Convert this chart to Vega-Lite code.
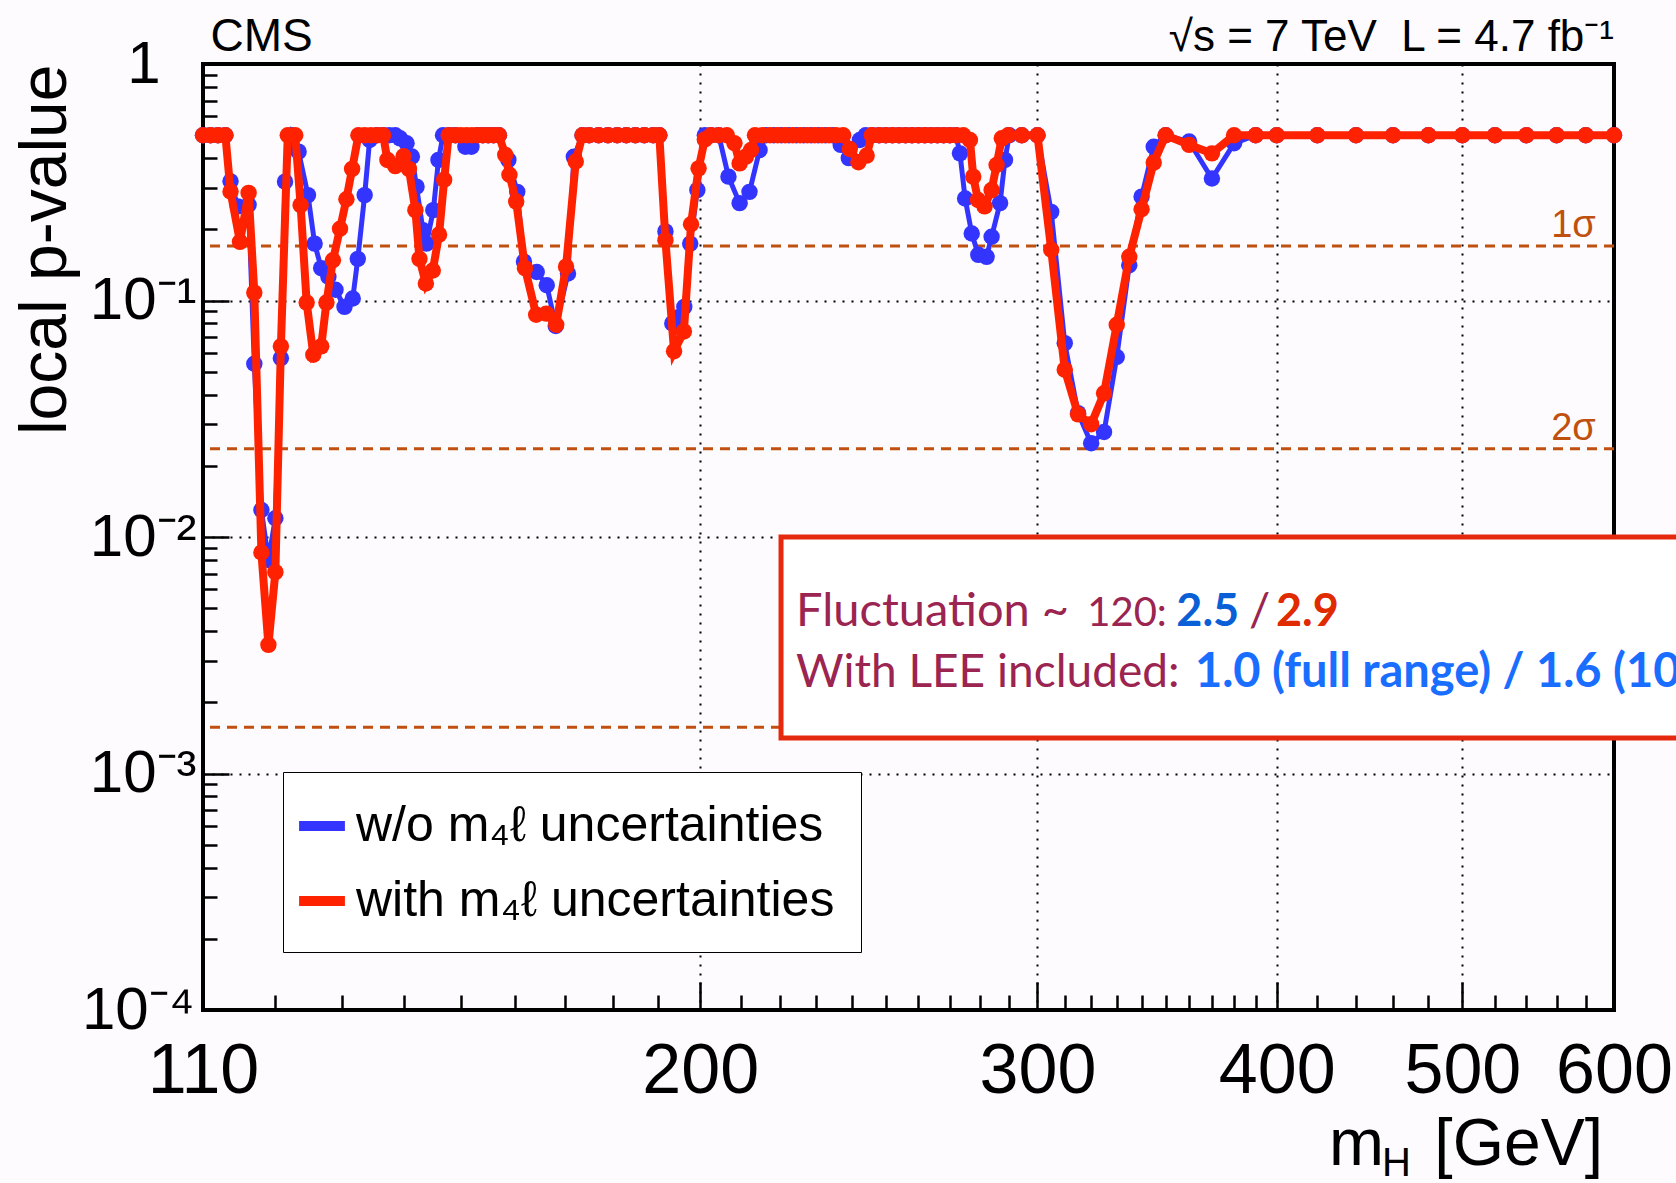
{
  "$schema": "https://vega.github.io/schema/vega-lite/v6.json",
  "width": 1411,
  "height": 946,
  "autosize": {"type": "none"},
  "padding": {"left": 203, "top": 64, "right": 62, "bottom": 173},
  "background": "#fdfbfd",
  "config": {
    "view": {"stroke": "black", "strokeWidth": 4, "fill": "#fdfbfd"},
    "font": "Liberation Sans"
  },
  "resolve": {"axis": {"x": "independent", "y": "independent"}},
  "datasets": {
    "sigma": [
      {"label": "1σ", "p": 0.17},
      {"label": "2σ", "p": 0.0236},
      {"label": "3σ", "p": 0.00157}
    ],
    "scan": [
      {"s":"w/o","m":110,"p":0.5},{"s":"w/o","m":111,"p":0.5},{"s":"w/o","m":112,"p":0.5},{"s":"w/o","m":113,"p":0.5},
      {"s":"w/o","m":113.7,"p":0.319},{"s":"w/o","m":114.7,"p":0.25},{"s":"w/o","m":116.2,"p":0.254},{"s":"w/o","m":117,"p":0.054},
      {"s":"w/o","m":118,"p":0.013},{"s":"w/o","m":119,"p":0.008},{"s":"w/o","m":120,"p":0.012},{"s":"w/o","m":120.8,"p":0.057},
      {"s":"w/o","m":121.4,"p":0.318},{"s":"w/o","m":122.4,"p":0.5},{"s":"w/o","m":123.4,"p":0.426},{"s":"w/o","m":124.8,"p":0.279},
      {"s":"w/o","m":125.8,"p":0.174},{"s":"w/o","m":126.8,"p":0.137},{"s":"w/o","m":127.9,"p":0.126},{"s":"w/o","m":129,"p":0.111},
      {"s":"w/o","m":130.4,"p":0.094},{"s":"w/o","m":131.7,"p":0.102},{"s":"w/o","m":132.5,"p":0.15},{"s":"w/o","m":133.6,"p":0.279},
      {"s":"w/o","m":134.4,"p":0.477},{"s":"w/o","m":135.6,"p":0.5},{"s":"w/o","m":136.6,"p":0.5},{"s":"w/o","m":137.6,"p":0.5},
      {"s":"w/o","m":138.6,"p":0.5},{"s":"w/o","m":139.4,"p":0.485},{"s":"w/o","m":140.5,"p":0.462},{"s":"w/o","m":141.4,"p":0.406},
      {"s":"w/o","m":142.2,"p":0.303},{"s":"w/o","m":143.3,"p":0.198},{"s":"w/o","m":143.9,"p":0.174},{"s":"w/o","m":145.1,"p":0.241},
      {"s":"w/o","m":146,"p":0.393},{"s":"w/o","m":146.8,"p":0.5},{"s":"w/o","m":148,"p":0.5},{"s":"w/o","m":149,"p":0.5},
      {"s":"w/o","m":150.8,"p":0.447},{"s":"w/o","m":151.9,"p":0.447},{"s":"w/o","m":153,"p":0.5},{"s":"w/o","m":154,"p":0.5},
      {"s":"w/o","m":155,"p":0.5},{"s":"w/o","m":156,"p":0.5},{"s":"w/o","m":157,"p":0.5},{"s":"w/o","m":158.8,"p":0.393},
      {"s":"w/o","m":160.5,"p":0.288},{"s":"w/o","m":161.8,"p":0.146},{"s":"w/o","m":164.3,"p":0.132},{"s":"w/o","m":166.3,"p":0.116},
      {"s":"w/o","m":168.1,"p":0.078},{"s":"w/o","m":170.6,"p":0.13},{"s":"w/o","m":171.8,"p":0.405},{"s":"w/o","m":173.6,"p":0.5},
      {"s":"w/o","m":175,"p":0.5},{"s":"w/o","m":177,"p":0.5},{"s":"w/o","m":179,"p":0.5},{"s":"w/o","m":181,"p":0.5},
      {"s":"w/o","m":183,"p":0.5},{"s":"w/o","m":185,"p":0.5},{"s":"w/o","m":187,"p":0.5},{"s":"w/o","m":189,"p":0.5},
      {"s":"w/o","m":190.4,"p":0.5},{"s":"w/o","m":191.8,"p":0.196},{"s":"w/o","m":193.4,"p":0.08},{"s":"w/o","m":194.9,"p":0.085},
      {"s":"w/o","m":196.2,"p":0.094},{"s":"w/o","m":197.6,"p":0.174},{"s":"w/o","m":199.3,"p":0.293},{"s":"w/o","m":201.1,"p":0.5},
      {"s":"w/o","m":202.6,"p":0.5},{"s":"w/o","m":204.5,"p":0.5},{"s":"w/o","m":206.9,"p":0.334},{"s":"w/o","m":209.7,"p":0.258},
      {"s":"w/o","m":212.2,"p":0.288},{"s":"w/o","m":214.8,"p":0.433},{"s":"w/o","m":216.5,"p":0.5},{"s":"w/o","m":218.5,"p":0.5},
      {"s":"w/o","m":220.5,"p":0.5},{"s":"w/o","m":222.5,"p":0.5},{"s":"w/o","m":224.5,"p":0.5},{"s":"w/o","m":226.5,"p":0.5},
      {"s":"w/o","m":228.5,"p":0.5},{"s":"w/o","m":230.5,"p":0.5},{"s":"w/o","m":232.5,"p":0.5},{"s":"w/o","m":234.5,"p":0.5},
      {"s":"w/o","m":236.8,"p":0.455},{"s":"w/o","m":239.1,"p":0.4},{"s":"w/o","m":242.3,"p":0.477},{"s":"w/o","m":244,"p":0.5},
      {"s":"w/o","m":246,"p":0.5},{"s":"w/o","m":248,"p":0.5},{"s":"w/o","m":250,"p":0.5},{"s":"w/o","m":252,"p":0.5},
      {"s":"w/o","m":254,"p":0.5},{"s":"w/o","m":256,"p":0.5},{"s":"w/o","m":258,"p":0.5},{"s":"w/o","m":260,"p":0.5},
      {"s":"w/o","m":262,"p":0.5},{"s":"w/o","m":264,"p":0.5},{"s":"w/o","m":266,"p":0.5},{"s":"w/o","m":268,"p":0.5},
      {"s":"w/o","m":270,"p":0.5},{"s":"w/o","m":272,"p":0.5},{"s":"w/o","m":273.3,"p":0.419},{"s":"w/o","m":275,"p":0.27},
      {"s":"w/o","m":277.2,"p":0.192},{"s":"w/o","m":279.4,"p":0.156},{"s":"w/o","m":282.2,"p":0.153},{"s":"w/o","m":283.9,"p":0.186},
      {"s":"w/o","m":286.8,"p":0.258},{"s":"w/o","m":288.5,"p":0.393},{"s":"w/o","m":290,"p":0.5},{"s":"w/o","m":294.4,"p":0.5},
      {"s":"w/o","m":300,"p":0.5},{"s":"w/o","m":305,"p":0.237},{"s":"w/o","m":310,"p":0.066},{"s":"w/o","m":315,"p":0.0334},
      {"s":"w/o","m":320,"p":0.0249},{"s":"w/o","m":325,"p":0.0278},{"s":"w/o","m":330,"p":0.0577},{"s":"w/o","m":335,"p":0.141},
      {"s":"w/o","m":340,"p":0.275},{"s":"w/o","m":345,"p":0.447},{"s":"w/o","m":350,"p":0.5},{"s":"w/o","m":360,"p":0.47},
      {"s":"w/o","m":370,"p":0.328},{"s":"w/o","m":380,"p":0.462},{"s":"w/o","m":390,"p":0.5},{"s":"w/o","m":400,"p":0.5},
      {"s":"w/o","m":420,"p":0.5},{"s":"w/o","m":440,"p":0.5},{"s":"w/o","m":460,"p":0.5},{"s":"w/o","m":480,"p":0.5},
      {"s":"w/o","m":500,"p":0.5},{"s":"w/o","m":520,"p":0.5},{"s":"w/o","m":540,"p":0.5},{"s":"w/o","m":560,"p":0.5},
      {"s":"w/o","m":580,"p":0.5},{"s":"w/o","m":600,"p":0.5},

      {"s":"with","m":110,"p":0.5},{"s":"with","m":111,"p":0.5},{"s":"with","m":112,"p":0.5},{"s":"with","m":113,"p":0.5},
      {"s":"with","m":113.7,"p":0.289},{"s":"with","m":115,"p":0.177},{"s":"with","m":116.2,"p":0.285},{"s":"with","m":117,"p":0.108},
      {"s":"with","m":118,"p":0.0086},{"s":"with","m":119,"p":0.0035},{"s":"with","m":120,"p":0.0071},{"s":"with","m":120.8,"p":0.064},
      {"s":"with","m":121.8,"p":0.5},{"s":"with","m":122.9,"p":0.5},{"s":"with","m":123.7,"p":0.253},{"s":"with","m":124.6,"p":0.098},
      {"s":"with","m":125.6,"p":0.059},{"s":"with","m":126.8,"p":0.064},{"s":"with","m":127.6,"p":0.098},{"s":"with","m":128.6,"p":0.148},
      {"s":"with","m":129.7,"p":0.201},{"s":"with","m":130.7,"p":0.268},{"s":"with","m":131.6,"p":0.36},{"s":"with","m":132.6,"p":0.5},
      {"s":"with","m":133.6,"p":0.5},{"s":"with","m":134.6,"p":0.5},{"s":"with","m":135.6,"p":0.5},{"s":"with","m":136.6,"p":0.5},
      {"s":"with","m":137.3,"p":0.393},{"s":"with","m":138.6,"p":0.37},{"s":"with","m":140,"p":0.407},{"s":"with","m":140.9,"p":0.36},
      {"s":"with","m":142,"p":0.241},{"s":"with","m":142.7,"p":0.15},{"s":"with","m":143.8,"p":0.118},{"s":"with","m":145,"p":0.134},
      {"s":"with","m":146.1,"p":0.19},{"s":"with","m":147,"p":0.324},{"s":"with","m":147.8,"p":0.5},{"s":"with","m":149,"p":0.5},
      {"s":"with","m":150,"p":0.5},{"s":"with","m":151,"p":0.5},{"s":"with","m":152,"p":0.5},{"s":"with","m":153,"p":0.5},
      {"s":"with","m":154,"p":0.5},{"s":"with","m":155,"p":0.5},{"s":"with","m":156,"p":0.5},{"s":"with","m":157,"p":0.5},
      {"s":"with","m":158.2,"p":0.413},{"s":"with","m":159,"p":0.34},{"s":"with","m":160.3,"p":0.262},{"s":"with","m":162,"p":0.137},
      {"s":"with","m":164.2,"p":0.087},{"s":"with","m":166.2,"p":0.088},{"s":"with","m":168.2,"p":0.079},{"s":"with","m":170.2,"p":0.139},
      {"s":"with","m":172.2,"p":0.387},{"s":"with","m":173.6,"p":0.5},{"s":"with","m":175,"p":0.5},{"s":"with","m":177,"p":0.5},
      {"s":"with","m":179,"p":0.5},{"s":"with","m":181,"p":0.5},{"s":"with","m":183,"p":0.5},{"s":"with","m":185,"p":0.5},
      {"s":"with","m":187,"p":0.5},{"s":"with","m":189,"p":0.5},{"s":"with","m":190.4,"p":0.5},{"s":"with","m":191.8,"p":0.18},
      {"s":"with","m":193.8,"p":0.061},{"s":"with","m":196.1,"p":0.074},{"s":"with","m":197.8,"p":0.21},{"s":"with","m":199.6,"p":0.362},
      {"s":"with","m":201.1,"p":0.48},{"s":"with","m":202.6,"p":0.5},{"s":"with","m":204.5,"p":0.5},{"s":"with","m":206.5,"p":0.5},
      {"s":"with","m":208.4,"p":0.462},{"s":"with","m":209.7,"p":0.38},{"s":"with","m":211.3,"p":0.406},{"s":"with","m":212.6,"p":0.433},
      {"s":"with","m":213.6,"p":0.5},{"s":"with","m":215.5,"p":0.5},{"s":"with","m":217.5,"p":0.5},{"s":"with","m":219.5,"p":0.5},
      {"s":"with","m":221.5,"p":0.5},{"s":"with","m":223.5,"p":0.5},{"s":"with","m":225.5,"p":0.5},{"s":"with","m":227.5,"p":0.5},
      {"s":"with","m":229.5,"p":0.5},{"s":"with","m":231.5,"p":0.5},{"s":"with","m":233.5,"p":0.5},{"s":"with","m":235.5,"p":0.5},
      {"s":"with","m":237.5,"p":0.5},{"s":"with","m":239.4,"p":0.437},{"s":"with","m":241.9,"p":0.384},{"s":"with","m":244.3,"p":0.41},
      {"s":"with","m":245.8,"p":0.5},{"s":"with","m":248,"p":0.5},{"s":"with","m":250,"p":0.5},{"s":"with","m":252,"p":0.5},
      {"s":"with","m":254,"p":0.5},{"s":"with","m":256,"p":0.5},{"s":"with","m":258,"p":0.5},{"s":"with","m":260,"p":0.5},
      {"s":"with","m":262,"p":0.5},{"s":"with","m":264,"p":0.5},{"s":"with","m":266,"p":0.5},{"s":"with","m":268,"p":0.5},
      {"s":"with","m":270,"p":0.5},{"s":"with","m":272,"p":0.5},{"s":"with","m":274.4,"p":0.5},{"s":"with","m":276.6,"p":0.477},
      {"s":"with","m":277.7,"p":0.334},{"s":"with","m":279.3,"p":0.266},{"s":"with","m":281.5,"p":0.25},{"s":"with","m":283.9,"p":0.293},
      {"s":"with","m":285.6,"p":0.374},{"s":"with","m":287.4,"p":0.485},{"s":"with","m":289.6,"p":0.5},{"s":"with","m":294.4,"p":0.5},
      {"s":"with","m":300,"p":0.5},{"s":"with","m":305,"p":0.164},{"s":"with","m":310,"p":0.051},{"s":"with","m":315,"p":0.033},
      {"s":"with","m":320,"p":0.03},{"s":"with","m":325,"p":0.0405},{"s":"with","m":330,"p":0.079},{"s":"with","m":335,"p":0.153},
      {"s":"with","m":340,"p":0.243},{"s":"with","m":345,"p":0.383},{"s":"with","m":350,"p":0.5},{"s":"with","m":360,"p":0.455},
      {"s":"with","m":370,"p":0.419},{"s":"with","m":380,"p":0.5},{"s":"with","m":390,"p":0.5},{"s":"with","m":400,"p":0.5},
      {"s":"with","m":420,"p":0.5},{"s":"with","m":440,"p":0.5},{"s":"with","m":460,"p":0.5},{"s":"with","m":480,"p":0.5},
      {"s":"with","m":500,"p":0.5},{"s":"with","m":520,"p":0.5},{"s":"with","m":540,"p":0.5},{"s":"with","m":560,"p":0.5},
      {"s":"with","m":580,"p":0.5},{"s":"with","m":600,"p":0.5}
    ]
  },
  "layer": [
    {
      "data": {"name": "sigma"},
      "mark": {"type": "rule", "color": "#c0500f", "strokeWidth": 3, "strokeDash": [10, 7]},
      "encoding": {
        "y": {"field": "p", "type": "quantitative", "scale": {"type": "log", "domain": [0.0001, 1], "nice": false}, "axis": null}
      }
    },
    {
      "data": {"name": "scan"},
      "transform": [{"filter": "datum.s == 'w/o'"}],
      "mark": {"type": "line", "strokeWidth": 5},
      "encoding": {
        "x": {"field": "m", "type": "quantitative",
          "scale": {"type": "log", "domain": [110, 600], "nice": false},
          "axis": {
            "orient": "bottom",
            "values": [110, 200, 300, 400, 500, 600],
            "title": null,
            "domain": false,
            "ticks": false,
            "labelExpr": "format(datum.value, 'd')",
            "labelFont": "Liberation Sans",
            "labelFontSize": 70,
            "labelColor": "black",
            "labelPadding": 27,
            "labelFlush": false,
            "labelOverlap": false,
            "labelBound": false,
            "grid": true,
            "gridColor": "black",
            "gridDash": [2, 7],
            "gridWidth": 2
          }
        },
        "y": {"field": "p", "type": "quantitative",
          "scale": {"type": "log", "domain": [0.0001, 1], "nice": false},
          "axis": {
            "orient": "left",
            "values": [0.001, 0.01, 0.1],
            "title": "local p-value",
            "titleFont": "Liberation Sans",
            "titleFontSize": 66,
            "titleFontWeight": "normal",
            "titleColor": "black",
            "titleAnchor": "end",
            "titlePadding": 10,
            "domain": false,
            "ticks": false,
            "labelExpr": "datum.value == 0.1 ? '10⁻¹' : datum.value == 0.01 ? '10⁻²' : '10⁻³'",
            "labelFont": "Liberation Sans",
            "labelFontSize": 60,
            "labelColor": "black",
            "labelPadding": 7,
            "labelOverlap": false,
            "labelBound": false,
            "labelFlush": false,
            "grid": true,
            "gridColor": "black",
            "gridDash": [2, 7],
            "gridWidth": 2
          }
        },
        "color": {"field": "s", "type": "nominal",
          "scale": {"domain": ["w/o", "with"], "range": ["#3434ff", "#ff2200"]},
          "legend": {
            "orient": "none",
            "legendX": 80,
            "legendY": 708,
            "title": null,
            "symbolType": "stroke",
            "symbolStrokeWidth": 10,
            "symbolSize": 2100,
            "symbolOffset": -15,
            "labelExpr": "datum.label == 'w/o' ? 'w/o m₄ℓ uncertainties' : 'with m₄ℓ uncertainties'",
            "labelFont": "Liberation Sans",
            "labelFontSize": 50,
            "labelColor": "black",
            "labelLimit": 0,
            "labelOffset": 6,
            "padding": 26,
            "rowPadding": 22,
            "strokeColor": "black",
            "fillColor": "white"
          }
        }
      }
    },
    {
      "data": {"name": "scan"},
      "transform": [{"filter": "datum.s == 'w/o'"}],
      "mark": {"type": "point", "filled": true, "size": 270, "opacity": 1},
      "encoding": {
        "x": {"field": "m", "type": "quantitative", "scale": {"type": "log", "domain": [110, 600], "nice": false},
          "axis": {"orient": "bottom", "values": [200, 300, 400, 500], "title": null, "domain": false, "labels": false, "grid": false,
            "ticks": true, "tickSize": -28, "tickWidth": 2.5, "tickColor": "black"}},
        "y": {"field": "p", "type": "quantitative", "scale": {"type": "log", "domain": [0.0001, 1], "nice": false},
          "axis": {"orient": "left", "values": [0.0001, 0.001, 0.01, 0.1, 1], "title": null, "domain": false, "labels": false, "grid": false,
            "ticks": true, "tickSize": -26, "tickWidth": 2.5, "tickColor": "black"}},
        "color": {"field": "s", "type": "nominal", "scale": {"domain": ["w/o", "with"], "range": ["#3434ff", "#ff2200"]}, "legend": null}
      }
    },
    {
      "data": {"name": "scan"},
      "transform": [{"filter": "datum.s == 'with'"}],
      "mark": {"type": "line", "strokeWidth": 8},
      "encoding": {
        "x": {"field": "m", "type": "quantitative", "scale": {"type": "log", "domain": [110, 600], "nice": false},
          "axis": {"orient": "bottom", "values": [120,130,140,150,160,170,180,190,210,220,230,240,250,260,270,280,290,310,320,330,340,350,360,370,380,390,420,440,460,480,520,540,560,580],
            "title": null, "domain": false, "labels": false, "grid": false,
            "ticks": true, "tickSize": -15, "tickWidth": 2.5, "tickColor": "black"}},
        "y": {"field": "p", "type": "quantitative", "scale": {"type": "log", "domain": [0.0001, 1], "nice": false},
          "axis": {"orient": "left", "values": [0.0002,0.0003,0.0004,0.0005,0.0006,0.0007,0.0008,0.0009,0.002,0.003,0.004,0.005,0.006,0.007,0.008,0.009,0.02,0.03,0.04,0.05,0.06,0.07,0.08,0.09,0.2,0.3,0.4,0.5,0.6,0.7,0.8,0.9],
            "title": null, "domain": false, "labels": false, "grid": false,
            "ticks": true, "tickSize": -14, "tickWidth": 2.5, "tickColor": "black"}},
        "color": {"field": "s", "type": "nominal", "scale": {"domain": ["w/o", "with"], "range": ["#3434ff", "#ff2200"]}, "legend": null}
      }
    },
    {
      "data": {"name": "scan"},
      "transform": [{"filter": "datum.s == 'with'"}],
      "mark": {"type": "point", "filled": true, "size": 270, "opacity": 1},
      "encoding": {
        "x": {"field": "m", "type": "quantitative", "scale": {"type": "log", "domain": [110, 600], "nice": false}, "axis": null},
        "y": {"field": "p", "type": "quantitative", "scale": {"type": "log", "domain": [0.0001, 1], "nice": false},
          "axis": {"orient": "left", "values": [1], "title": null, "domain": false, "ticks": false, "grid": false,
            "labelExpr": "'1'", "labelFont": "Liberation Sans", "labelFontSize": 60, "labelColor": "black",
            "labelPadding": 43, "labelOverlap": false, "labelBound": false, "labelFlush": false}},
        "color": {"field": "s", "type": "nominal", "scale": {"domain": ["w/o", "with"], "range": ["#3434ff", "#ff2200"]}, "legend": null}
      }
    },
    {
      "data": {"name": "sigma"},
      "transform": [{"filter": "datum.label != '3σ'"}],
      "mark": {"type": "text", "align": "right", "baseline": "alphabetic", "dy": -9, "font": "Liberation Sans", "fontSize": 38, "color": "#c0500f"},
      "encoding": {
        "x": {"datum": 587, "type": "quantitative", "scale": {"type": "log", "domain": [110, 600], "nice": false}, "axis": null},
        "y": {"field": "p", "type": "quantitative", "scale": {"type": "log", "domain": [0.0001, 1], "nice": false},
          "axis": {"orient": "left", "values": [0.0001], "title": null, "domain": false, "ticks": false, "grid": false,
            "labelExpr": "'10⁻⁴'", "labelFont": "Liberation Sans", "labelFontSize": 60, "labelColor": "black",
            "labelPadding": 9, "labelOffset": 0, "labelOverlap": false, "labelBound": false, "labelFlush": false}},
        "text": {"field": "label"}
      }
    },
    {
      "data": {"values": [{}]},
      "mark": {"type": "rect", "fill": "white", "stroke": "#e5290f", "strokeWidth": 5},
      "encoding": {
        "x": {"datum": 220.4, "type": "quantitative", "scale": {"type": "log", "domain": [110, 600], "nice": false}, "axis": null},
        "x2": {"datum": 900},
        "y": {"datum": 0.01, "type": "quantitative", "scale": {"type": "log", "domain": [0.0001, 1], "nice": false}, "axis": null},
        "y2": {"datum": 0.001413}
      }
    },
    {
      "data": {"values": [{}]},
      "mark": {"type": "text", "text": "Fluctuation ~", "align": "left", "baseline": "alphabetic", "font": "Lato", "fontSize": 47, "color": "#9b2450"},
      "encoding": {
        "x": {"datum": 224.4, "type": "quantitative", "scale": {"type": "log", "domain": [110, 600], "nice": false}, "axis": null},
        "y": {"datum": 0.0042, "type": "quantitative", "scale": {"type": "log", "domain": [0.0001, 1], "nice": false}, "axis": null}
      }
    },
    {
      "data": {"values": [{}]},
      "mark": {"type": "text", "text": "120:", "align": "left", "baseline": "alphabetic", "font": "Lato", "fontSize": 40, "color": "#9b2450"},
      "encoding": {
        "x": {"datum": 318.5, "type": "quantitative", "scale": {"type": "log", "domain": [110, 600], "nice": false}, "axis": null},
        "y": {"datum": 0.0042, "type": "quantitative", "scale": {"type": "log", "domain": [0.0001, 1], "nice": false}, "axis": null}
      }
    },
    {
      "data": {"values": [{}]},
      "mark": {"type": "text", "text": "2.5", "align": "left", "baseline": "alphabetic", "font": "Lato", "fontWeight": "bold", "fontSize": 45, "color": "#0a5fd6"},
      "encoding": {
        "x": {"datum": 354.5, "type": "quantitative", "scale": {"type": "log", "domain": [110, 600], "nice": false}, "axis": null},
        "y": {"datum": 0.0042, "type": "quantitative", "scale": {"type": "log", "domain": [0.0001, 1], "nice": false}, "axis": null}
      }
    },
    {
      "data": {"values": [{}]},
      "mark": {"type": "text", "text": "/", "align": "left", "baseline": "alphabetic", "font": "Lato", "fontSize": 47, "color": "#9b2450"},
      "encoding": {
        "x": {"datum": 386.9, "type": "quantitative", "scale": {"type": "log", "domain": [110, 600], "nice": false}, "axis": null},
        "y": {"datum": 0.0042, "type": "quantitative", "scale": {"type": "log", "domain": [0.0001, 1], "nice": false}, "axis": null}
      }
    },
    {
      "data": {"values": [{}]},
      "mark": {"type": "text", "text": "2.9", "align": "left", "baseline": "alphabetic", "font": "Lato", "fontWeight": "bold", "fontSize": 45, "color": "#e02a00"},
      "encoding": {
        "x": {"datum": 399.6, "type": "quantitative", "scale": {"type": "log", "domain": [110, 600], "nice": false}, "axis": null},
        "y": {"datum": 0.0042, "type": "quantitative", "scale": {"type": "log", "domain": [0.0001, 1], "nice": false}, "axis": null}
      }
    },
    {
      "data": {"values": [{}]},
      "mark": {"type": "text", "text": "With LEE included:", "align": "left", "baseline": "alphabetic", "font": "Lato", "fontSize": 46, "color": "#9b2450"},
      "encoding": {
        "x": {"datum": 224.4, "type": "quantitative", "scale": {"type": "log", "domain": [110, 600], "nice": false}, "axis": null},
        "y": {"datum": 0.00233, "type": "quantitative", "scale": {"type": "log", "domain": [0.0001, 1], "nice": false}, "axis": null}
      }
    },
    {
      "data": {"values": [{}]},
      "mark": {"type": "text", "text": "1.0 (full range) / 1.6 (10", "align": "left", "baseline": "alphabetic", "font": "Lato", "fontWeight": "bold", "fontSize": 47, "color": "#1a6eff"},
      "encoding": {
        "x": {"datum": 362.5, "type": "quantitative", "scale": {"type": "log", "domain": [110, 600], "nice": false}, "axis": null},
        "y": {"datum": 0.00233, "type": "quantitative", "scale": {"type": "log", "domain": [0.0001, 1], "nice": false}, "axis": null}
      }
    },
    {
      "data": {"values": [{}]},
      "mark": {"type": "text", "text": "CMS", "align": "left", "baseline": "alphabetic", "font": "Liberation Sans", "fontSize": 46, "color": "black"},
      "encoding": {
        "x": {"datum": 111, "type": "quantitative", "scale": {"type": "log", "domain": [110, 600], "nice": false}, "axis": null},
        "y": {"datum": 1.135, "type": "quantitative", "scale": {"type": "log", "domain": [0.0001, 1], "nice": false}, "axis": null}
      }
    },
    {
      "data": {"values": [{}]},
      "mark": {"type": "text", "text": "√s = 7 TeV\u00a0\u00a0L = 4.7 fb⁻¹", "align": "right", "baseline": "alphabetic", "font": "Liberation Sans", "fontSize": 44, "color": "black"},
      "encoding": {
        "x": {"datum": 600, "type": "quantitative", "scale": {"type": "log", "domain": [110, 600], "nice": false}, "axis": null},
        "y": {"datum": 1.135, "type": "quantitative", "scale": {"type": "log", "domain": [0.0001, 1], "nice": false}, "axis": null}
      }
    },
    {
      "data": {"values": [{}]},
      "mark": {"type": "text", "text": "m", "align": "left", "baseline": "alphabetic", "font": "Liberation Sans", "fontSize": 66, "color": "black"},
      "encoding": {
        "x": {"datum": 425.9, "type": "quantitative", "scale": {"type": "log", "domain": [110, 600], "nice": false}, "axis": null},
        "y": {"datum": 0.0000221, "type": "quantitative", "scale": {"type": "log", "domain": [0.0001, 1], "nice": false}, "axis": null}
      }
    },
    {
      "data": {"values": [{}]},
      "mark": {"type": "text", "text": "H", "align": "left", "baseline": "alphabetic", "font": "Liberation Sans", "fontSize": 40, "color": "black"},
      "encoding": {
        "x": {"datum": 454, "type": "quantitative", "scale": {"type": "log", "domain": [110, 600], "nice": false}, "axis": null},
        "y": {"datum": 0.0000199, "type": "quantitative", "scale": {"type": "log", "domain": [0.0001, 1], "nice": false}, "axis": null}
      }
    },
    {
      "data": {"values": [{}]},
      "mark": {"type": "text", "text": "[GeV]", "align": "right", "baseline": "alphabetic", "font": "Liberation Sans", "fontSize": 66, "color": "black"},
      "encoding": {
        "x": {"datum": 592.2, "type": "quantitative", "scale": {"type": "log", "domain": [110, 600], "nice": false}, "axis": null},
        "y": {"datum": 0.0000221, "type": "quantitative", "scale": {"type": "log", "domain": [0.0001, 1], "nice": false}, "axis": null}
      }
    }
  ]
}
